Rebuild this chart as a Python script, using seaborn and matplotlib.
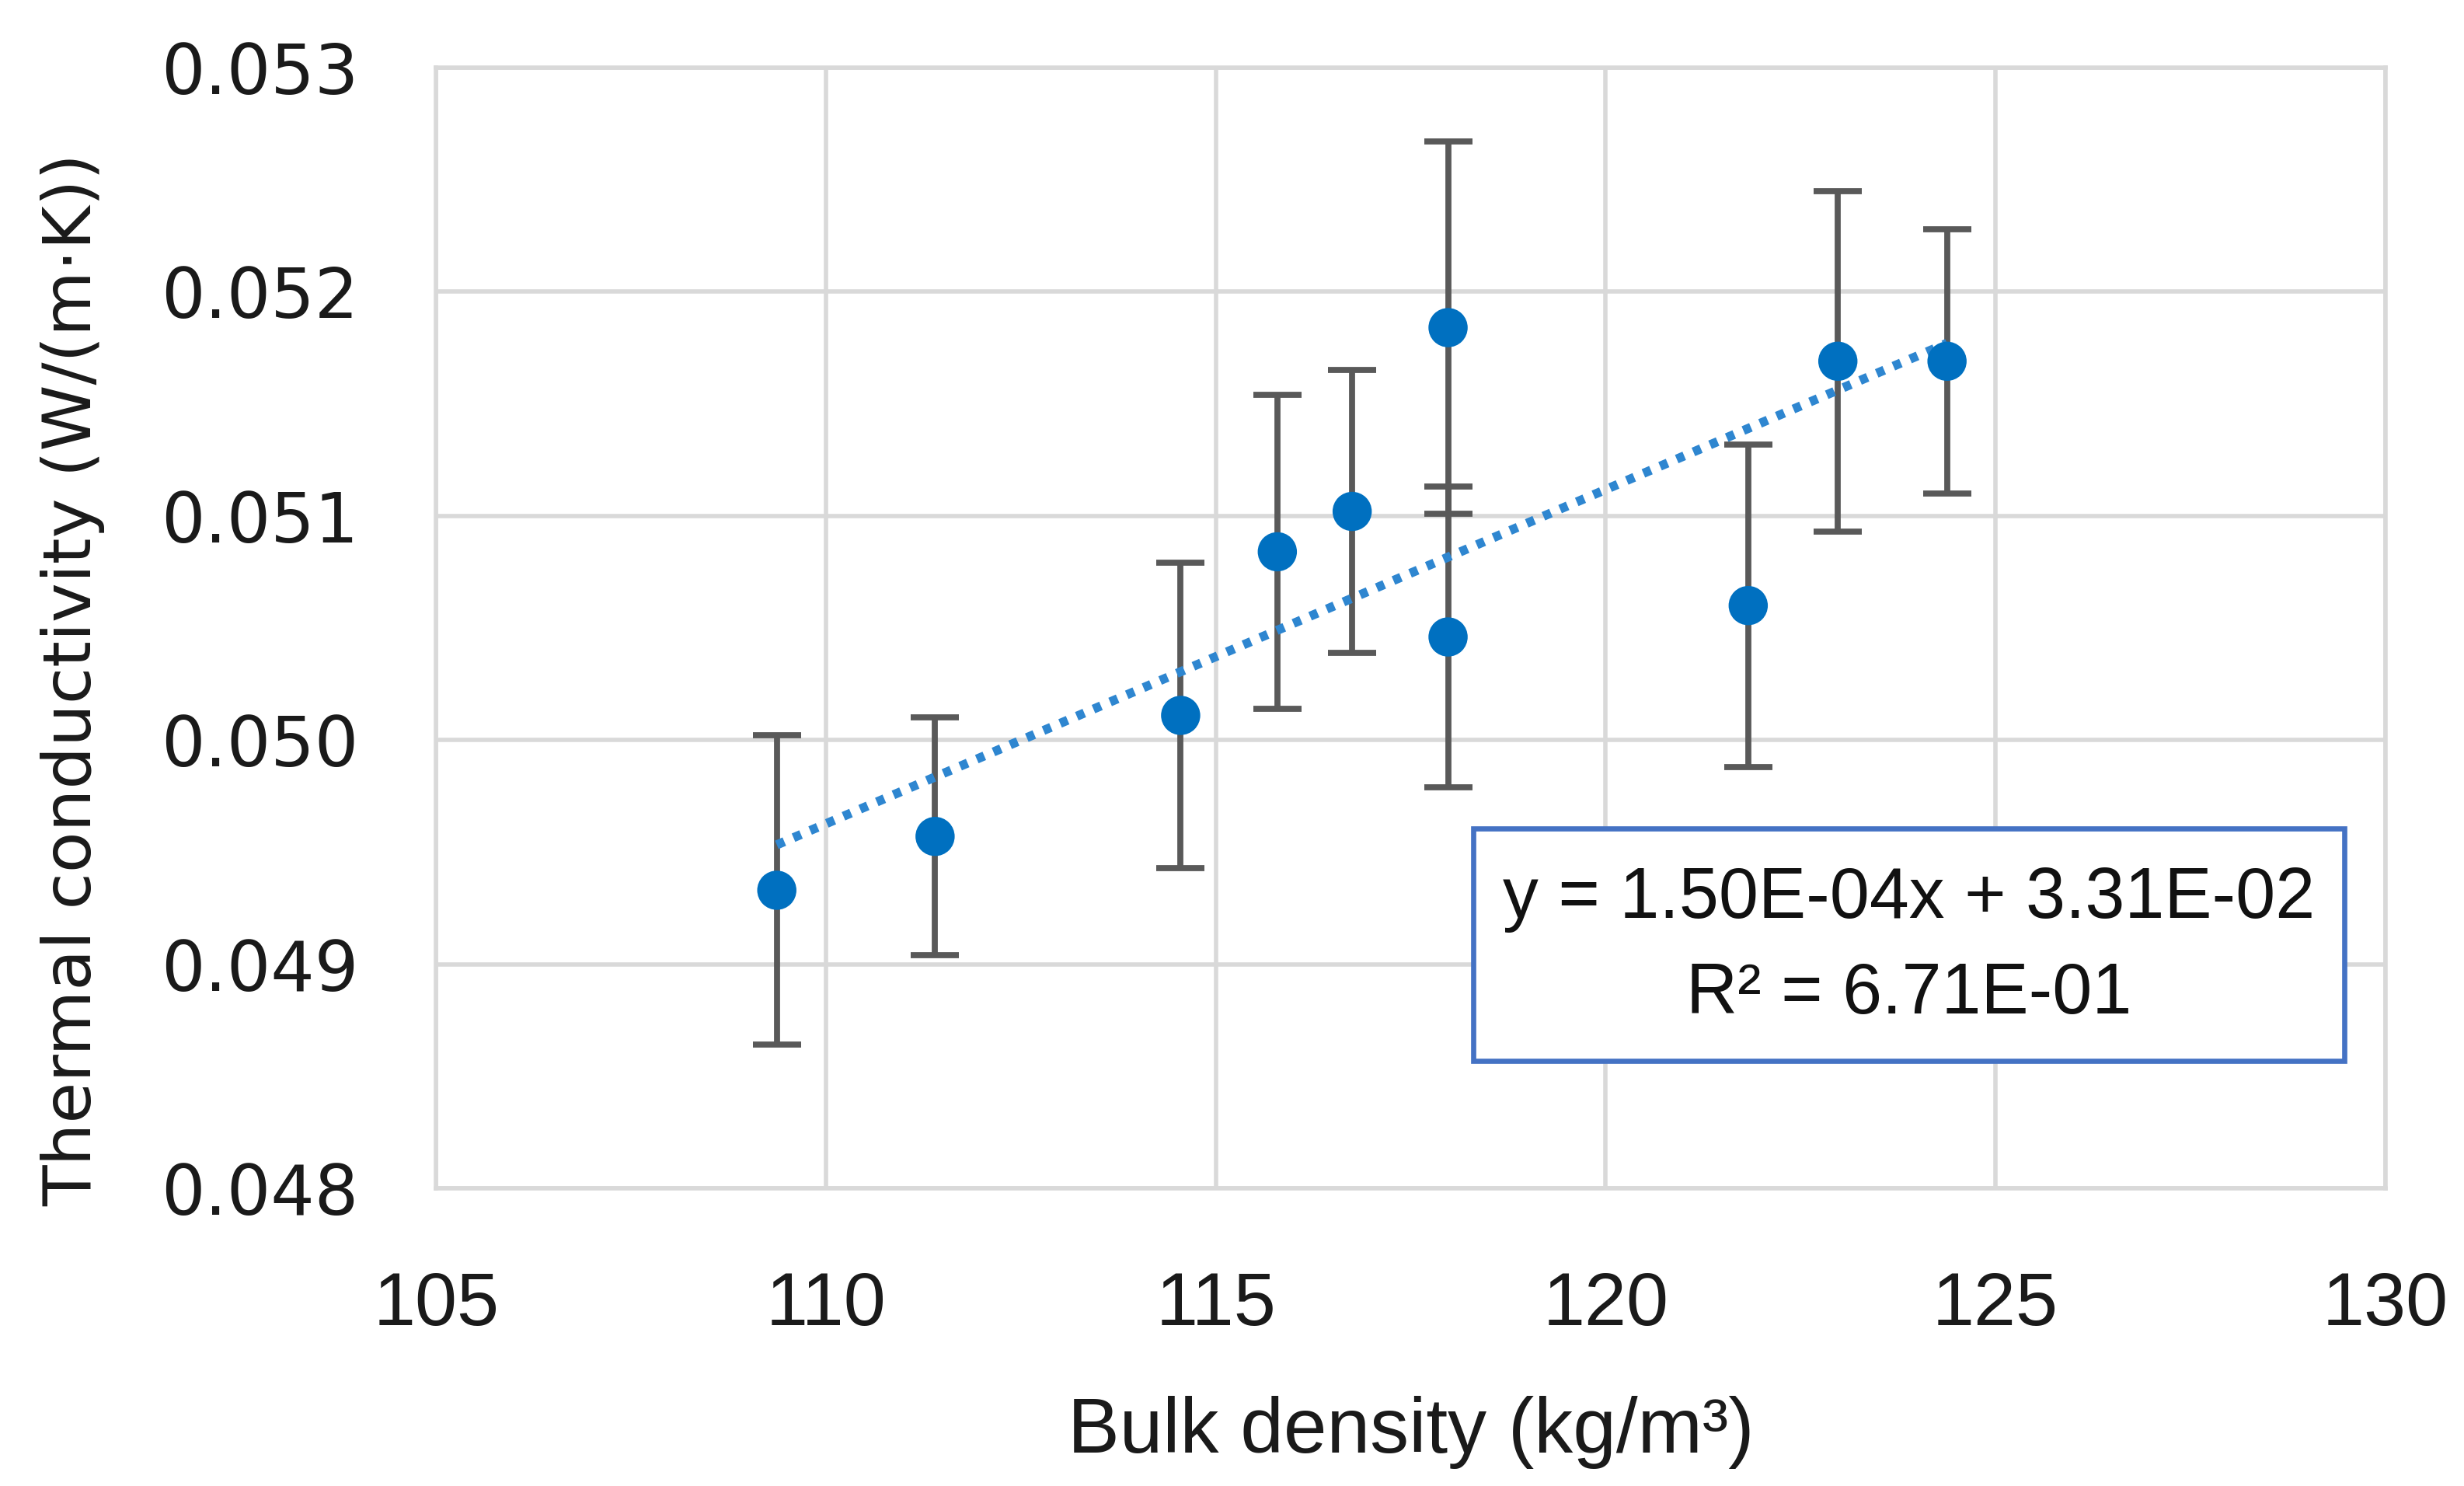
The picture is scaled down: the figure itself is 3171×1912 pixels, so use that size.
import numpy as np
import pandas as pd
import matplotlib
matplotlib.use("Agg")
import matplotlib.pyplot as plt
import seaborn as sns
from matplotlib.patches import Rectangle

# ---- data ----
bulk_density = [109.37, 111.40, 114.55, 115.79, 116.75, 117.98, 117.98, 121.83, 122.98, 124.38]
conductivity = [0.04933, 0.04957, 0.05011, 0.05084, 0.05102, 0.05184, 0.05046, 0.05060, 0.05169, 0.05169]
error = [0.00069, 0.00053, 0.00068, 0.00070, 0.00063, 0.00083, 0.00067, 0.00072, 0.00076, 0.00059]
x_ticks = [105, 110, 115, 120, 125, 130]
y_ticks = [0.048, 0.049, 0.050, 0.051, 0.052, 0.053]
y_tick_labels = ["0.048", "0.049", "0.050", "0.051", "0.052", "0.053"]
equation_text = "y = 1.50E-04x + 3.31E-02"
r2_text = "R² = 6.71E-01"
x_label = "Bulk density (kg/m³)"
y_label = "Thermal conductivity (W/(m·K))"

df = pd.DataFrame({"x": bulk_density, "y": conductivity, "err": error})

sns.set_theme(style="white")
plt.rcParams["font.family"] = ["DejaVu Sans"]

narrow = ["Liberation Sans", "DejaVu Sans"]

fig = plt.figure(figsize=(15.855, 9.56), dpi=200)
ax = fig.add_axes([0.177, 0.2003, 0.791, 0.7542])

grid_col = "#D9D9D9"
marker_col = "#0070C0"
bar_col = "#595959"

# error bars
ax.errorbar(df["x"], df["y"], yerr=df["err"], fmt="none", ecolor=bar_col,
            elinewidth=2.8, capsize=11, capthick=2.8, zorder=2)

# trend line (linear fit)
sns.regplot(data=df, x="x", y="y", ax=ax, scatter=False, ci=None, truncate=True,
            line_kws=dict(color="#2E86D0", lw=4.2, linestyle=(0, (0.9, 1.1)), zorder=3))

# markers
sns.scatterplot(data=df, x="x", y="y", ax=ax, color=marker_col, s=330,
                edgecolor="none", zorder=4)

ax.set_xlim(105, 130)
ax.set_ylim(0.048, 0.053)
ax.set_xticks(x_ticks)
ax.set_xticklabels([str(t) for t in x_ticks], fontsize=35, family=narrow)
ax.set_yticks(y_ticks)
ax.set_yticklabels(y_tick_labels, fontsize=32)
ax.tick_params(axis="x", length=0, pad=38, colors="#1a1a1a")
ax.tick_params(axis="y", length=0, pad=36, colors="#1a1a1a")

ax.grid(True, color=grid_col, linewidth=2.0, zorder=0)
ax.set_axisbelow(True)
for s in ax.spines.values():
    s.set_color(grid_col)
    s.set_linewidth(2.0)

ax.set_xlabel(x_label, fontsize=36, family=narrow, color="#1a1a1a")
ax.set_ylabel(y_label, fontsize=31, color="#1a1a1a")
ax.xaxis.set_label_coords(0.5, -0.185)
ax.xaxis.label.set_va("top")
ax.yaxis.set_label_coords(-0.17, 0.454)

# equation box
rect = Rectangle((0.532, 0.114), 0.447, 0.207, transform=ax.transAxes,
                 facecolor="white", edgecolor="#4472C4", linewidth=2.4, zorder=5)
ax.add_patch(rect)
ax.text(0.7555, 0.258, equation_text, transform=ax.transAxes, ha="center", va="center",
        fontsize=33, family=narrow, color="#111111", zorder=6)
ax.text(0.7555, 0.173, r2_text, transform=ax.transAxes, ha="center", va="center",
        fontsize=33, family=narrow, color="#111111", zorder=6)

fig.savefig("out.png", dpi=200, facecolor="white")
